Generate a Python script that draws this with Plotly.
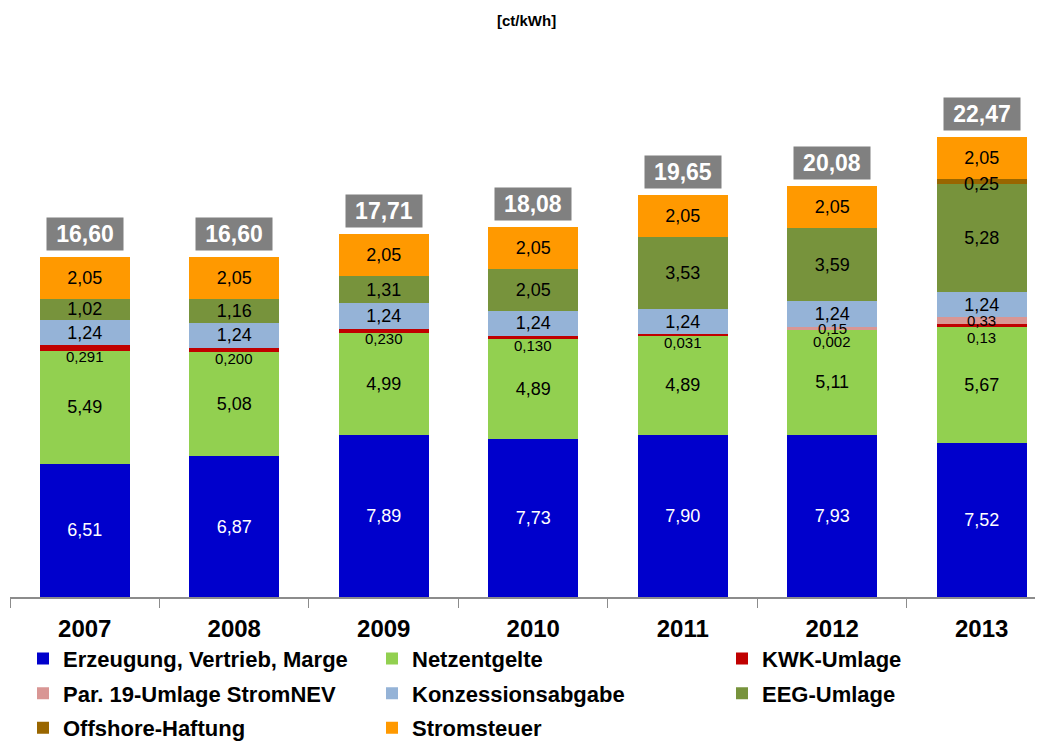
import plotly.graph_objects as go

years = ["2007", "2008", "2009", "2010", "2011", "2012", "2013"]
erzeugung = [6.51, 6.87, 7.89, 7.73, 7.90, 7.93, 7.52]
netzentgelte = [5.49, 5.08, 4.99, 4.89, 4.89, 5.11, 5.67]
kwk = [0.291, 0.200, 0.230, 0.130, 0.031, 0.002, 0.13]
kwk_labels = ["0,291", "0,200", "0,230", "0,130", "0,031", "0,002", "0,13"]
par19 = [0, 0, 0, 0, 0, 0.15, 0.33]
konzession = [1.24, 1.24, 1.24, 1.24, 1.24, 1.24, 1.24]
eeg = [1.02, 1.16, 1.31, 2.05, 3.53, 3.59, 5.28]
offshore = [0, 0, 0, 0, 0, 0, 0.25]
stromsteuer = [2.05, 2.05, 2.05, 2.05, 2.05, 2.05, 2.05]
totals = [16.60, 16.60, 17.71, 18.08, 19.65, 20.08, 22.47]

FONT = "Liberation Sans, Arial, sans-serif"
# the page body adds an 8px offset; margins compensate for it
W, H = 1043, 743
ML, MR, MT, MB = 2, 8, 32, 151
PW, PH = W - ML - MR, H - MT - MB


def fmt(v):
    return f"{v:.2f}".replace(".", ",")


def px_x(px):
    return (px - ML) / PW


def px_y(py):
    return (H - MB - py) / PH


fig = go.Figure()

# (name, values, colour, show inside text, text colour, legend column)
series = [
    ("Erzeugung, Vertrieb, Marge", erzeugung, "#0000CC", True, "white", "legend"),
    ("Netzentgelte", netzentgelte, "#92D050", True, "black", "legend2"),
    ("KWK-Umlage", kwk, "#C00000", False, "black", "legend3"),
    ("Par. 19-Umlage StromNEV", par19, "#D99694", False, "black", "legend"),
    ("Konzessionsabgabe", konzession, "#95B3D7", True, "black", "legend2"),
    ("EEG-Umlage", eeg, "#77933C", True, "black", "legend3"),
    ("Offshore-Haftung", offshore, "#996600", False, "black", "legend"),
    ("Stromsteuer", stromsteuer, "#FF9900", True, "black", "legend2"),
]

for name, vals, color, show_text, tcol, leg in series:
    fig.add_trace(go.Bar(
        x=years, y=vals, name=name,
        legend=leg, legendgroup=name,
        marker=dict(color=color, line=dict(width=0)),
        text=[fmt(v) for v in vals] if show_text else None,
        textposition="inside" if show_text else "none",
        insidetextanchor="middle",
        textangle=0,
        constraintext="none",
        textfont=dict(color=tcol, size=18, family=FONT),
        width=0.6,
        hoverinfo="skip",
    ))

annotations = []
for i in range(len(years)):
    base = erzeugung[i] + netzentgelte[i]
    annotations.append(dict(x=i, y=base + kwk[i] / 2, text=kwk_labels[i],
                            showarrow=False, yshift=-8 if i < 5 else -12,
                            font=dict(size=15, color="black", family=FONT)))
    if par19[i] > 0:
        annotations.append(dict(x=i, y=base + kwk[i] + par19[i] / 2, text=fmt(par19[i]),
                                showarrow=False, yshift=0,
                                font=dict(size=15, color="black", family=FONT)))
    if offshore[i] > 0:
        top = base + kwk[i] + par19[i] + konzession[i] + eeg[i]
        annotations.append(dict(x=i, y=top + offshore[i] / 2, text=fmt(offshore[i]),
                                showarrow=False, yshift=-3,
                                font=dict(size=18, color="black", family=FONT)))
    annotations.append(dict(x=i, y=totals[i], text=fmt(totals[i]),
                            showarrow=False, yanchor="bottom", yshift=6,
                            bgcolor="#808080", borderpad=3, width=70,
                            font=dict(size=23, color="white", family=FONT, weight="bold")))

annotations.append(dict(xref="paper", yref="paper", x=0.5, y=1, yanchor="middle",
                        yshift=20, text="[ct/kWh]", showarrow=False,
                        font=dict(size=15, color="black", family=FONT, weight="bold")))

legfont = dict(size=22, color="black", family=FONT, weight="bold")
legcommon = dict(orientation="v", xanchor="left", yanchor="top", font=legfont,
                 tracegroupgap=3, bgcolor="rgba(0,0,0,0)", borderwidth=0,
                 traceorder="grouped")
LEG_TOP = px_y(633)

fig.update_layout(
    barmode="stack",
    width=W, height=H,
    margin=dict(l=ML, r=MR, t=MT, b=MB),
    paper_bgcolor="white", plot_bgcolor="white",
    annotations=annotations,
    showlegend=True,
    legend=dict(x=px_x(15), y=LEG_TOP, **legcommon),
    legend2=dict(x=px_x(364), y=LEG_TOP, **legcommon),
    legend3=dict(x=px_x(714), y=LEG_TOP, **legcommon),
    xaxis=dict(type="category", range=[-0.5, 6.41], showline=True, linecolor="#8C8C8C",
               linewidth=2, ticks="outside", tickson="boundaries", ticklen=9,
               tickcolor="#8C8C8C", tickwidth=1, showgrid=False, zeroline=False,
               ticklabelstandoff=9,
               tickfont=dict(size=24, color="black", family=FONT, weight="bold")),
    yaxis=dict(range=[0, 27.2], visible=False, showgrid=False, zeroline=False),
)

fig.write_html("out.html")
